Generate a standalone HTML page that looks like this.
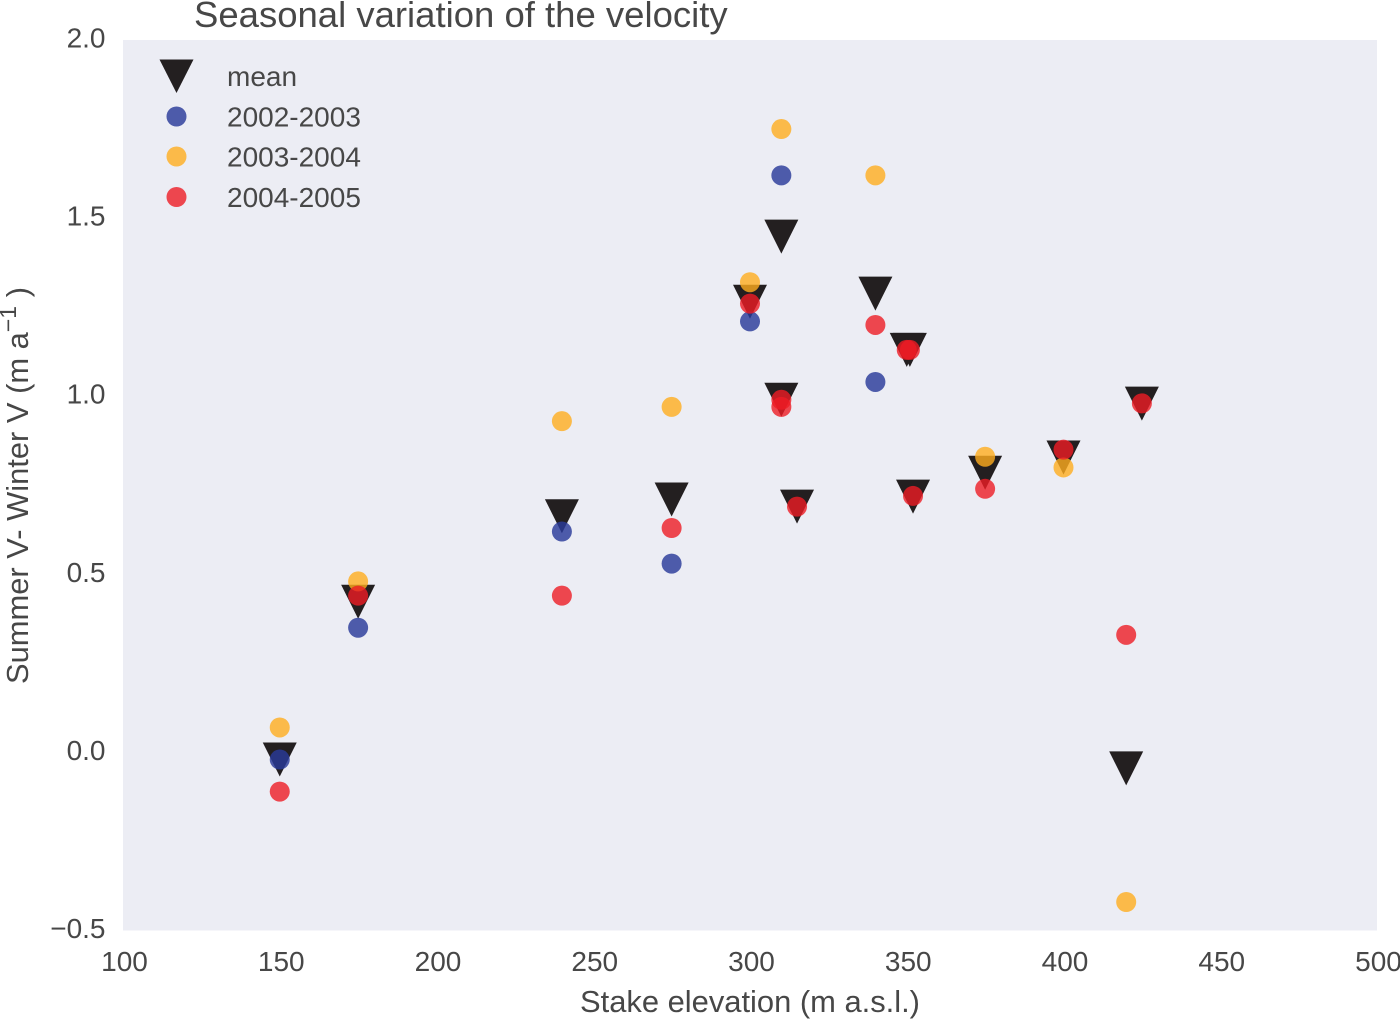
<!DOCTYPE html>
<html lang="en">
<head>
<meta charset="utf-8">
<title>Seasonal variation of the velocity</title>
<style>
html,body{margin:0;padding:0;background:#fff;width:1400px;height:1019px;overflow:hidden}
svg{display:block;font-family:"Liberation Sans",Arial,sans-serif}
text{fill:#474747}
</style>
</head>
<body>
<svg id="chart" xmlns="http://www.w3.org/2000/svg" width="1400" height="1019" viewBox="0 0 1400 1019">
  <rect x="123" y="40" width="1254" height="890.5" fill="#ecedf4"/>
  <text x="194" y="27" font-size="36.5">Seasonal variation of the velocity</text>
  <text x="750" y="1012" font-size="30.9" text-anchor="middle">Stake elevation (m a.s.l.)</text>
  <text transform="translate(28,684) rotate(-90)" font-size="30.9">Summer V- Winter V (m a<tspan dy="-12" font-size="23">−1</tspan><tspan dy="12"> )</tspan></text>
  <g id="x-ticks"></g>
  <g id="y-ticks"></g>
  <g id="marks"></g>
  <g>
    <g>
      <polygon points="159.5,59.5 193.5,59.5 176.5,93" fill="#231f20"/>
      <text x="227" y="86" font-size="28">mean</text>
    </g>
    <g>
      <circle cx="176.5" cy="116.5" r="10" fill="rgb(41,58,154)" fill-opacity="0.82"/>
      <text x="227" y="126.5" font-size="28">2002-2003</text>
    </g>
    <g>
      <circle cx="176.5" cy="156.5" r="10" fill="rgb(255,172,30)" fill-opacity="0.8"/>
      <text x="227" y="166.5" font-size="28">2003-2004</text>
    </g>
    <g>
      <circle cx="176.5" cy="197" r="10" fill="#ed1c24" fill-opacity="0.8"/>
      <text x="227" y="207" font-size="28">2004-2005</text>
    </g>
  </g>
</svg>
<script>
const xTickValues = [100, 150, 200, 250, 300, 350, 400, 450, 500];
const yTickValues = [-0.5, 0, 0.5, 1, 1.5, 2];
const yTickLabels = ['−0.5', '0.0', '0.5', '1.0', '1.5', '2.0'];

const meanX = [150, 175, 240, 275, 300, 310, 310, 315, 340, 350, 351, 352, 375, 400, 420, 425];
const meanY = [-0.02, 0.423, 0.663, 0.71, 1.265, 1.448, 0.99, 0.69, 1.288, 1.13, 1.13, 0.718, 0.785, 0.828, -0.045, 0.979];

const blueX = [150, 175, 240, 275, 300, 310, 340];
const blueY = [-0.02, 0.35, 0.62, 0.53, 1.21, 1.62, 1.04];

const orangeX = [150, 175, 240, 275, 300, 310, 340, 375, 400, 420];
const orangeY = [0.07, 0.48, 0.93, 0.97, 1.32, 1.75, 1.62, 0.83, 0.8, -0.42];

const redX = [150, 175, 240, 275, 300, 310, 310, 315, 340, 350, 351, 352, 375, 400, 420, 425];
const redY = [-0.11, 0.44, 0.44, 0.63, 1.26, 0.97, 0.99, 0.69, 1.2, 1.13, 1.13, 0.72, 0.74, 0.85, 0.33, 0.98];

const NS = 'http://www.w3.org/2000/svg';
function xScale(v) { return 123 + (v - 100) * (1254 / 400); }
function yScale(v) { return 40 + (2 - v) * (890.5 / 2.5); }

const xGroup = document.getElementById('x-ticks');
xTickValues.forEach(function (v) {
  const t = document.createElementNS(NS, 'text');
  
  
  t.setAttribute('x', xScale(v) + 1.5);
  t.setAttribute('y', 971);
  t.setAttribute('font-size', '28');
  t.setAttribute('text-anchor', 'middle');
  t.textContent = String(v);
  xGroup.appendChild(t);
});

const yGroup = document.getElementById('y-ticks');
yTickValues.forEach(function (v, i) {
  const t = document.createElementNS(NS, 'text');
  
  
  t.setAttribute('x', 105.5);
  t.setAttribute('y', yScale(v) + 7.5);
  t.setAttribute('font-size', '28');
  t.setAttribute('text-anchor', 'end');
  t.textContent = yTickLabels[i];
  yGroup.appendChild(t);
});

const marks = document.getElementById('marks');
meanX.forEach(function (v, i) {
  const cx = xScale(v);
  const cy = yScale(meanY[i]);
  const p = document.createElementNS(NS, 'polygon');
  
  
  p.setAttribute('points', (cx - 17) + ',' + (cy - 17) + ' ' + (cx + 17) + ',' + (cy - 17) + ' ' + cx + ',' + (cy + 17));
  p.setAttribute('fill', '#231f20');
  marks.appendChild(p);
});

function drawBlue() {
  blueX.forEach(function (v, i) {
    const c = document.createElementNS(NS, 'circle');
    
    
    c.setAttribute('cx', xScale(v));
    c.setAttribute('cy', yScale(blueY[i]));
    c.setAttribute('r', 10);
    c.setAttribute('fill', 'rgb(41,58,154)');
    c.setAttribute('fill-opacity', '0.82');
    marks.appendChild(c);
  });
}
function drawOrange() {
  orangeX.forEach(function (v, i) {
    const c = document.createElementNS(NS, 'circle');
    
    
    c.setAttribute('cx', xScale(v));
    c.setAttribute('cy', yScale(orangeY[i]));
    c.setAttribute('r', 10);
    c.setAttribute('fill', 'rgb(255,172,30)');
    c.setAttribute('fill-opacity', '0.8');
    marks.appendChild(c);
  });
}
function drawRed() {
  redX.forEach(function (v, i) {
    const c = document.createElementNS(NS, 'circle');
    
    
    c.setAttribute('cx', xScale(v));
    c.setAttribute('cy', yScale(redY[i]));
    c.setAttribute('r', 10);
    c.setAttribute('fill', '#ed1c24');
    c.setAttribute('fill-opacity', '0.8');
    marks.appendChild(c);
  });
}
drawBlue();
drawOrange();
drawRed();
</script>
</body>
</html>
